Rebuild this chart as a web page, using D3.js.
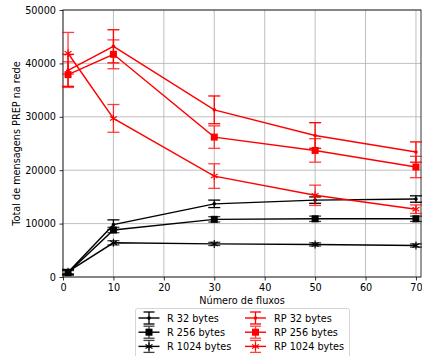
<!DOCTYPE html>
<html>
<head>
<meta charset="utf-8">
<script src="https://cdn.jsdelivr.net/npm/d3@7"></script>
<style>
  html, body { margin: 0; padding: 0; background: #fff; }
  svg { display: block; font-family: "DejaVu Sans", sans-serif; }
</style>
</head>
<body>
<svg id="chart" width="422" height="356"></svg>
<script>
// Number of flows on the x axis
const flows = [1, 10, 30, 50, 70];

// Mean PREP message totals and their error half-widths
const r32 = [900, 9800, 13700, 14400, 14600];
const r32Err = [500, 900, 700, 600, 600];
const r256 = [800, 8800, 10800, 10900, 10900];
const r256Err = [400, 500, 500, 500, 500];
const r1024 = [1000, 6400, 6200, 6100, 5900];
const r1024Err = [400, 400, 300, 300, 300];

const rp32 = [38700, 43200, 31300, 26500, 23400];
const rp32Err = [3000, 3100, 2600, 2400, 1900];
const rp256 = [37900, 41700, 26200, 23700, 20600];
const rp256Err = [2400, 2700, 2100, 2200, 2000];
const rp1024 = [41900, 29700, 18900, 15300, 12700];
const rp1024Err = [3900, 2600, 2300, 1900, 800];

const xTicks = [0, 10, 20, 30, 40, 50, 60, 70];
const yTicks = [0, 10000, 20000, 30000, 40000, 50000];

const seriesNames = ["R 32 bytes", "R 256 bytes", "R 1024 bytes", "RP 32 bytes", "RP 256 bytes", "RP 1024 bytes"];
const seriesColors = ["#000", "#000", "#000", "#f00", "#f00", "#f00"];
const seriesMarkers = ["dot", "square", "star", "dot", "square", "star"];
const seriesValues = [r32, r256, r1024, rp32, rp256, rp1024];
const seriesErrors = [r32Err, r256Err, r1024Err, rp32Err, rp256Err, rp1024Err];

const series = seriesNames.map((name, i) => ({
  name, color: seriesColors[i], marker: seriesMarkers[i],
  points: flows.map((f, j) => ({ x: f, y: seriesValues[i][j], e: seriesErrors[i][j] }))
}));

const FONT = 9.7;
const svg = d3.select("#chart");
const pLeft = 63, pRight = 421, pTop = 10, pBottom = 277;

const x = d3.scaleLinear().domain([0, 71]).range([pLeft, pRight]);
const y = d3.scaleLinear().domain([0, 50000]).range([pBottom, pTop]);

// grid
const grid = svg.append("g");
grid.selectAll("line.vx").data(xTicks).join("line")
  .attr("x1", d => x(d)).attr("x2", d => x(d)).attr("y1", pTop).attr("y2", pBottom)
  .attr("stroke", "#b0b0b0").attr("stroke-width", 0.8);
grid.selectAll("line.hy").data(yTicks).join("line")
  .attr("x1", pLeft).attr("x2", pRight).attr("y1", d => y(d)).attr("y2", d => y(d))
  .attr("stroke", "#b0b0b0").attr("stroke-width", 0.8);

// axes
const xAxis = svg.append("g").attr("transform", `translate(0,${pBottom})`)
  .call(d3.axisBottom(x).tickValues(xTicks).tickSize(3.5).tickPadding(3.5).tickFormat(d3.format("d")));
const yAxis = svg.append("g").attr("transform", `translate(${pLeft},0)`)
  .call(d3.axisLeft(y).tickValues(yTicks).tickSize(3.5).tickPadding(3.5).tickFormat(d3.format("d")));
[xAxis, yAxis].forEach(a => {
  a.select(".domain").remove();
  a.selectAll("text").attr("font-size", FONT).attr("fill", "#000").attr("font-family", "DejaVu Sans");
  a.selectAll("line").attr("stroke", "#000").attr("stroke-width", 0.8);
});

// frame
svg.append("rect").attr("x", pLeft).attr("y", pTop).attr("width", pRight - pLeft).attr("height", pBottom - pTop)
  .attr("fill", "none").attr("stroke", "#000").attr("stroke-width", 0.8);

function drawMarker(g, type, cx, cy, color) {
  if (type === "dot") {
    g.append("circle").attr("cx", cx).attr("cy", cy).attr("r", 1.8).attr("fill", color);
  } else if (type === "square") {
    const h = 3.5;
    g.append("rect").attr("x", cx - h).attr("y", cy - h).attr("width", 2 * h).attr("height", 2 * h).attr("fill", color);
  } else {
    const r = 4;
    [90, 30, 150].forEach(a => {
      const rad = a * Math.PI / 180;
      g.append("line")
        .attr("x1", cx - r * Math.cos(rad)).attr("y1", cy - r * Math.sin(rad))
        .attr("x2", cx + r * Math.cos(rad)).attr("y2", cy + r * Math.sin(rad))
        .attr("stroke", color).attr("stroke-width", 1.1);
    });
  }
}

const line = d3.line().x(d => x(d.x)).y(d => y(d.y));
const plot = svg.append("g");

series.forEach(s => {
  const g = plot.append("g");
  const errOpacity = s.marker === "dot" ? 1 : 0.75;
  s.points.forEach(p => {
    const eg = g.append("g").attr("stroke", s.color).attr("stroke-width", 1.3).attr("opacity", errOpacity);
    eg.append("line").attr("x1", x(p.x)).attr("x2", x(p.x)).attr("y1", y(p.y - p.e)).attr("y2", y(p.y + p.e));
    [p.y - p.e, p.y + p.e].forEach(v => {
      eg.append("line").attr("x1", x(p.x) - 6).attr("x2", x(p.x) + 6).attr("y1", y(v)).attr("y2", y(v));
    });
  });
  g.append("path").datum(s.points).attr("d", line)
    .attr("fill", "none").attr("stroke", s.color).attr("stroke-width", 1.4);
  s.points.forEach(p => drawMarker(g, s.marker, x(p.x), y(p.y), s.color));
});

// axis titles
svg.append("text").attr("x", (pLeft + pRight) / 2).attr("y", 304).attr("text-anchor", "middle")
  .attr("font-size", FONT).text("Número de fluxos");
svg.append("text").attr("transform", `translate(20,${(pTop + pBottom) / 2}) rotate(-90)`)
  .attr("text-anchor", "middle").attr("font-size", FONT).text("Total de mensagens PREP na rede");

// legend
const leg = svg.append("g");
leg.append("rect").attr("x", 135.5).attr("y", 308.5).attr("width", 214).attr("height", 54).attr("rx", 2)
  .attr("fill", "#fff").attr("stroke", "#ccc").attr("stroke-width", 0.8);
series.forEach((s, i) => {
  const col = Math.floor(i / 3), row = i % 3;
  const hx = col === 0 ? 138.5 : 245;
  const cy = 318 + row * 14.2;
  const g = leg.append("g");
  const op = s.marker === "dot" ? 1 : 0.75;
  const eg = g.append("g").attr("stroke", s.color).attr("stroke-width", 1.3).attr("opacity", op);
  eg.append("line").attr("x1", hx + 10.5).attr("x2", hx + 10.5).attr("y1", cy - 6).attr("y2", cy + 6);
  [cy - 6, cy + 6].forEach(v => eg.append("line").attr("x1", hx + 5).attr("x2", hx + 16).attr("y1", v).attr("y2", v));
  g.append("line").attr("x1", hx).attr("x2", hx + 21).attr("y1", cy).attr("y2", cy)
    .attr("stroke", s.color).attr("stroke-width", 1.4);
  drawMarker(g, s.marker, hx + 10.5, cy, s.color);
  g.append("text").attr("x", col === 0 ? 167 : 274).attr("y", cy + 3.6).attr("font-size", FONT).text(s.name);
});
</script>
</body>
</html>
